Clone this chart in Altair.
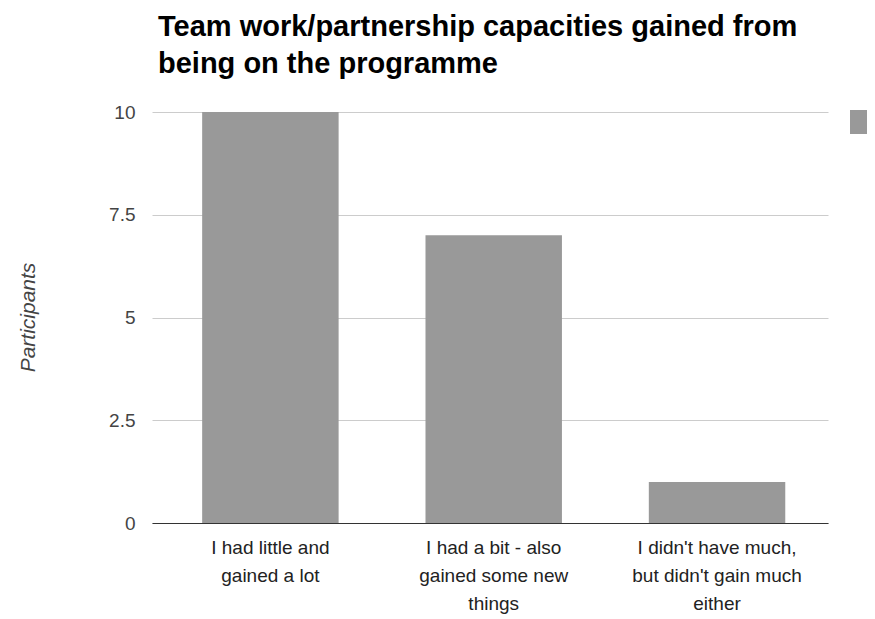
import altair as alt
import pandas as pd

categories = [
    "I had little and gained a lot",
    "I had a bit - also gained some new things",
    "I didn't have much, but didn't gain much either",
]
label_lines = [
    ["I had little and", "gained a lot"],
    ["I had a bit - also", "gained some new", "things"],
    ["I didn't have much,", "but didn't gain much", "either"],
]
values = [10, 7, 1]
y_ticks = [0, 2.5, 5, 7.5, 10]
series_name = "Participants"

df = pd.DataFrame({"category": categories, "value": values, "series": [series_name] * 3})

mapping = "{" + ",".join(
    "'" + c.replace("'", "\\'") + "':[" + ",".join("'" + l.replace("'", "\\'") + "'" for l in ls) + "]"
    for c, ls in zip(categories, label_lines)
) + "}"

chart = alt.Chart(df).mark_bar(color="#999999").encode(
    x=alt.X(
        "category:N",
        sort=categories,
        scale=alt.Scale(paddingInner=0.389, paddingOuter=0.208, align=0.54),
        axis=alt.Axis(
            title=None,
            labelAngle=0,
            labelExpr=mapping + "[datum.label]",
            labelFont="Liberation Sans",
            labelFontSize=19,
            labelColor="#222222",
            labelLineHeight=28,
            labelPadding=15,
            labelBaseline="top",
            ticks=False,
            domainColor="#333333",
            domainWidth=1,
            grid=False,
        ),
    ),
    y=alt.Y(
        "value:Q",
        scale=alt.Scale(domain=[0, 10], nice=False),
        axis=alt.Axis(
            values=y_ticks,
            labelExpr="toString(datum.value)",
            title="Participants",
            titleFont="Liberation Sans",
            titleFontSize=21,
            titleFontStyle="italic",
            titleFontWeight="normal",
            titleColor="#444444",
            titleAngle=-90,
            titleX=-124,
            titleY=205,
            titleAlign="center",
            titleBaseline="middle",
            labelFont="Liberation Sans",
            labelFontSize=19,
            labelColor="#444444",
            labelPadding=17,
            ticks=False,
            domain=False,
            gridColor="#cccccc",
            gridWidth=1,
        ),
    ),
    fill=alt.Fill(
        "series:N",
        scale=alt.Scale(range=["#999999"]),
        legend=alt.Legend(
            title=None,
            orient="none",
            legendX=698,
            legendY=-2,
            symbolType="square",
            symbolSize=576,
            symbolStrokeWidth=0,
            labelExpr="''",
            labelFontSize=1,
        ),
    ),
).properties(
    width=676,
    height=411,
    autosize=alt.AutoSizeParams(type="none"),
    padding={"left": 144, "top": 104, "right": 39, "bottom": 92},
    title=alt.TitleParams(
        text=["Team work/partnership capacities gained from", "being on the programme"],
        anchor="start",
        frame="group",
        font="Liberation Sans",
        fontSize=29,
        fontWeight="bold",
        color="#000000",
        lineHeight=37,
        dx=6,
        offset=24,
    ),
).configure_view(stroke=None)

chart.save("out.html", embed_options={"renderer": "svg", "actions": False})
